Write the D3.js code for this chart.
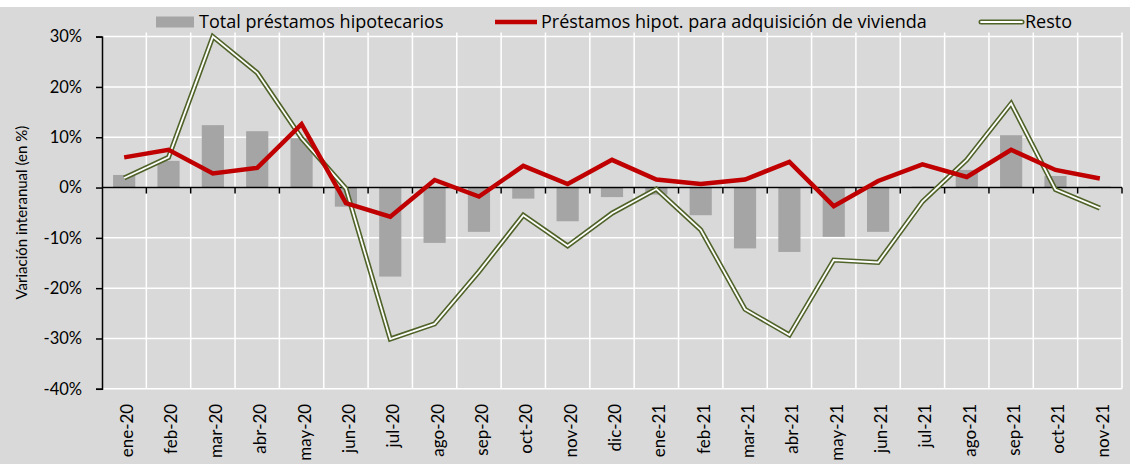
<!DOCTYPE html>
<html>
<head>
<meta charset="utf-8">
<script src="https://cdn.jsdelivr.net/npm/d3@7"></script>
<style>
  body { margin: 0; background: #fff; }
  text { font-family: Lato, "Open Sans", sans-serif; fill: #000; }
  .legend text { font-family: "Open Sans", Lato, sans-serif; }
</style>
</head>
<body>
<div id="chart"></div>
<script>
// Data
const months = ["ene-20", "feb-20", "mar-20", "abr-20", "may-20", "jun-20", "jul-20", "ago-20",
    "sep-20", "oct-20", "nov-20", "dic-20", "ene-21", "feb-21", "mar-21", "abr-21", "may-21",
    "jun-21", "jul-21", "ago-21", "sep-21", "oct-21", "nov-21"];

const total = [2.5, 5.3, 12.4, 11.2, 9.8, -3.8, -17.7, -11.0, -8.8, -2.2, -6.7, -1.9, -1.4,
    -5.5, -12.1, -12.8, -9.8, -8.8, 0.2, 3.5, 10.4, 2.3, 0.2];

const vivienda = [6.0, 7.5, 2.8, 3.9, 12.6, -3.1, -5.8, 1.5, -1.8, 4.3, 0.7, 5.5, 1.6,
    0.7, 1.6, 5.1, -3.7, 1.3, 4.6, 2.1, 7.5, 3.5, 1.8];

const resto = [1.9, 6.0, 30.0, 22.8, 9.8, -0.2, -30.1, -27.1, -16.7, -5.5, -11.6, -5.1, -0.3,
    -8.4, -24.2, -29.3, -14.4, -14.9, -2.8, 5.5, 16.7, -0.4, -4.1];

const yTicks = [-40, -30, -20, -10, 0, 10, 20, 30];

const legendItems = ["Total préstamos hipotecarios", "Préstamos hipot. para adquisición de vivienda", "Resto"];

// Layout
const width = 1130, height = 464;
const plot = { left: 102, right: 1122, top: 36.6, bottom: 388.8 };

const svg = d3.select("#chart")
    .append("svg")
    .attr("width", width)
    .attr("height", height);

// chart background
svg.append("rect")
    .attr("x", 0).attr("y", 7)
    .attr("width", width).attr("height", height - 7)
    .attr("fill", "#d9d9d9");

// Scales
const xScale = d3.scaleBand()
    .domain(months)
    .range([plot.left, plot.right]);

const yScale = d3.scaleLinear()
    .domain([-40, 30])
    .range([plot.bottom, plot.top]);

const xc = d => xScale(d) + xScale.bandwidth() / 2;

// Horizontal grid
svg.selectAll(".hgrid")
    .data(yTicks)
    .enter()
    .append("line")
    .attr("class", "hgrid")
    .attr("x1", plot.left).attr("x2", plot.right)
    .attr("y1", d => yScale(d)).attr("y2", d => yScale(d))
    .attr("stroke", "#fff")
    .attr("stroke-width", 1.5);

// Vertical grid at category boundaries
svg.selectAll(".vgrid")
    .data(months.slice(1).concat(["end"]))
    .enter()
    .append("line")
    .attr("class", "vgrid")
    .attr("x1", (d, i) => plot.left + (i + 1) * xScale.step())
    .attr("x2", (d, i) => plot.left + (i + 1) * xScale.step())
    .attr("y1", plot.top - 4).attr("y2", plot.bottom)
    .attr("stroke", "#fff")
    .attr("stroke-width", 1.5);

// Bars
svg.selectAll(".bar")
    .data(total)
    .enter()
    .append("rect")
    .attr("class", "bar")
    .attr("x", (d, i) => xc(months[i]) - xScale.bandwidth() * 0.25)
    .attr("width", xScale.bandwidth() * 0.5)
    .attr("y", d => yScale(Math.max(0, d)))
    .attr("height", d => Math.abs(yScale(d) - yScale(0)))
    .attr("fill", "#a5a5a5");

// Y axis
const yAxis = svg.append("g")
    .attr("transform", "translate(" + plot.left + ",0)")
    .call(d3.axisLeft(yScale).tickValues(yTicks).tickSize(6).tickPadding(14).tickFormat(d => d + "%"));
yAxis.selectAll("text").style("font-size", "16.5px");
yAxis.selectAll("line, path").attr("stroke", "#000").attr("stroke-width", 1.5);

// X axis line at zero with ticks between categories
const xAxis = svg.append("g")
    .attr("transform", "translate(0," + yScale(0) + ")");
xAxis.append("line")
    .attr("x1", plot.left).attr("x2", plot.right)
    .attr("stroke", "#000").attr("stroke-width", 1.5);
xAxis.selectAll(".xtick")
    .data(months.slice(1).concat(["end"]))
    .enter()
    .append("line")
    .attr("class", "xtick")
    .attr("x1", (d, i) => plot.left + (i + 1) * xScale.step())
    .attr("x2", (d, i) => plot.left + (i + 1) * xScale.step())
    .attr("y1", 0).attr("y2", 6)
    .attr("stroke", "#000").attr("stroke-width", 1.5);

// Category labels below the plot
svg.selectAll(".xlabel")
    .data(months)
    .enter()
    .append("text")
    .attr("class", "xlabel")
    .attr("transform", d => "translate(" + (xc(d) + 3) + "," + (plot.bottom + 15) + ") rotate(-90)")
    .attr("dy", "0.35em")
    .attr("text-anchor", "end")
    .style("font-size", "17px")
    .text(d => d);

// Y axis title
svg.append("text")
    .attr("transform", "translate(22," + ((plot.top + plot.bottom) / 2) + ") rotate(-90)")
    .attr("dy", "0.35em")
    .attr("text-anchor", "middle")
    .style("font-size", "15px")
    .text("Variación interanual (en %)");

// Lines
const line = d3.line()
    .x((d, i) => xc(months[i]))
    .y(d => yScale(d));

svg.append("path")
    .datum(resto)
    .attr("d", line)
    .attr("fill", "none")
    .attr("stroke", "#4f6228")
    .attr("stroke-width", 5);
svg.append("path")
    .datum(resto)
    .attr("d", line)
    .attr("fill", "none")
    .attr("stroke", "#ffffff")
    .attr("stroke-width", 1.8);

svg.append("path")
    .datum(vivienda)
    .attr("d", line)
    .attr("fill", "none")
    .attr("stroke", "#c00000")
    .attr("stroke-width", 4.5)
    .attr("stroke-linejoin", "miter");

// Legend
const legend = svg.append("g").attr("class", "legend");
const legendY = 22;

legend.append("rect")
    .attr("x", 156).attr("y", legendY - 5.5)
    .attr("width", 38).attr("height", 11)
    .attr("fill", "#a5a5a5");
legend.append("text")
    .attr("x", 199).attr("y", legendY).attr("dy", "0.35em")
    .style("font-size", "18px")
    .text(legendItems[0]);

legend.append("line")
    .attr("x1", 495).attr("x2", 537)
    .attr("y1", legendY).attr("y2", legendY)
    .attr("stroke", "#c00000").attr("stroke-width", 4.5);
legend.append("text")
    .attr("x", 541).attr("y", legendY).attr("dy", "0.35em")
    .style("font-size", "18px")
    .text(legendItems[1]);

legend.append("line")
    .attr("x1", 981).attr("x2", 1022)
    .attr("y1", legendY).attr("y2", legendY)
    .attr("stroke", "#4f6228").attr("stroke-width", 5).attr("stroke-linecap", "round");
legend.append("line")
    .attr("x1", 981).attr("x2", 1022)
    .attr("y1", legendY).attr("y2", legendY)
    .attr("stroke", "#fff").attr("stroke-width", 1.8).attr("stroke-linecap", "round");
legend.append("text")
    .attr("x", 1025).attr("y", legendY).attr("dy", "0.35em")
    .style("font-size", "18px")
    .text(legendItems[2]);
</script>
</body>
</html>
